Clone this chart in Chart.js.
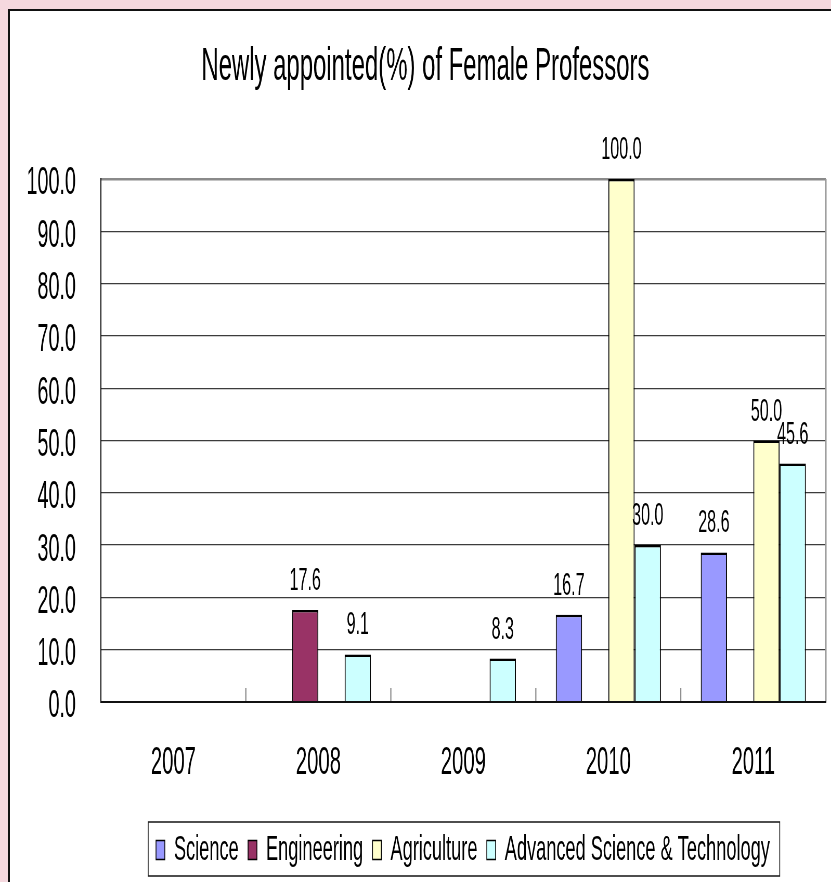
<!DOCTYPE html>
<html>
<head>
<meta charset="utf-8">
<script src="https://cdn.jsdelivr.net/npm/chart.js@4.4.1/dist/chart.umd.min.js"></script>
<style>
  html, body { margin: 0; padding: 0; overflow: hidden; }
  body { width: 831px; height: 882px; background: #f5d8de; position: relative; }
  #panel { position: absolute; left: 8px; top: 9px; width: 900px; height: 1000px; background: #fff;
           border-left: 2px solid #111; border-top: 2px solid #111; }
  #wrap { position: absolute; left: 0; top: 0; width: 831px; height: 882px; overflow: hidden; }
  #chart { transform-origin: 0 0; }
</style>
</head>
<body>
<div id="panel"></div>
<div id="wrap"><canvas id="chart"></canvas></div>
<script>
const years = ['2007', '2008', '2009', '2010', '2011'];
const science = [null, null, null, 16.7, 28.6];
const engineering = [null, 17.6, null, null, null];
const agriculture = [null, null, null, 100.0, 50.0];
const advanced = [null, 9.1, 8.3, 30.0, 45.6];
const yMin = 0, yMax = 100, yStep = 10;

// the picture's text is squeezed sideways, so draw wide and squash the canvas
const SX = 0.52;
const W = Math.round(831 / SX);
const canvas = document.getElementById('chart');
canvas.width = W;
canvas.height = 882;
canvas.style.transform = 'scaleX(' + (831 / W) + ')';

const FONT = "'Liberation Sans', Arial, sans-serif";
Chart.defaults.font.family = FONT;
Chart.defaults.color = '#000';

function bars(label, data, color) {
  return {
    label: label,
    data: data,
    backgroundColor: color,
    borderColor: '#000',
    borderWidth: {top: 2.5, left: 2, right: 2, bottom: 0},
    categoryPercentage: 0.725,
    barPercentage: 1
  };
}

const extras = {
  id: 'extras',
  afterLayout(chart) {
    // move legend items to where the picture has them
    const lg = chart.legend;
    const pad = lg.options.labels.padding;
    const x0 = (lg.left + pad + lg.right - lg.lineWidths[0]) / 2;
    const shift = 300 - x0;
    lg.left += shift;
    lg.right += shift;
  },
  afterDatasetsDraw(chart) {
    const ctx = chart.ctx, a = chart.chartArea, xs = chart.scales.x;
    ctx.save();
    // small ticks between the years
    ctx.strokeStyle = '#777';
    ctx.lineWidth = 2;
    for (let i = 1; i < years.length; i++) {
      const x = (xs.getPixelForValue(i - 1) + xs.getPixelForValue(i)) / 2;
      ctx.beginPath(); ctx.moveTo(x, a.bottom); ctx.lineTo(x, a.bottom - 14); ctx.stroke();
    }
    // right edge of plot
    ctx.strokeStyle = '#999';
    ctx.lineWidth = 3;
    ctx.beginPath(); ctx.moveTo(a.right, a.top); ctx.lineTo(a.right, a.bottom); ctx.stroke();
    // baseline over the bars
    ctx.strokeStyle = '#111';
    ctx.lineWidth = 2;
    ctx.beginPath(); ctx.moveTo(a.left, a.bottom); ctx.lineTo(a.right, a.bottom); ctx.stroke();
    // value labels
    ctx.fillStyle = '#000';
    ctx.font = '31px ' + FONT;
    ctx.textAlign = 'center';
    ctx.textBaseline = 'alphabetic';
    chart.data.datasets.forEach((ds, d) => {
      chart.getDatasetMeta(d).data.forEach((el, i) => {
        if (ds.data[i] == null) return;
        ctx.fillText(ds.data[i].toFixed(1), el.x, el.y - 20);
      });
    });
    ctx.restore();
  },
  afterDraw(chart) {
    // frame round the legend
    const hb = chart.legend.legendHitBoxes;
    if (!hb || !hb.length) return;
    const last = hb[hb.length - 1];
    const left = hb[0].left - 15;
    const right = last.left + last.width + 19;
    const ctx = chart.ctx;
    ctx.save();
    ctx.strokeStyle = '#222';
    ctx.lineWidth = 1.6;
    ctx.strokeRect(left, hb[0].top - 10.5, right - left, 54);
    ctx.restore();
  }
};

new Chart(canvas, {
  type: 'bar',
  data: {
    labels: years,
    datasets: [
      bars('Science', science, '#9999ff'),
      bars('Engineering', engineering, '#993366'),
      bars('Agriculture', agriculture, '#ffffcc'),
      bars('Advanced Science & Technology', advanced, '#ccffff')
    ]
  },
  options: {
    responsive: false,
    animation: false,
    devicePixelRatio: 1,
    layout: { padding: {left: 48, right: 10, top: 0, bottom: 4.5} },
    plugins: {
      title: {
        display: true,
        text: 'Newly appointed(%) of Female Professors',
        color: '#000',
        font: {size: 46, weight: 'normal'},
        padding: {top: 40, bottom: 83.8}
      },
      legend: {
        position: 'bottom',
        labels: { boxWidth: 17, boxHeight: 19, padding: 18, color: '#000', font: {size: 35} }
      },
      tooltip: { enabled: false }
    },
    scales: {
      x: {
        afterFit(scale) { scale.height = 112.5; },
        ticks: { padding: 38, font: {size: 39} },
        grid: { display: false, drawTicks: false },
        border: { display: true, color: '#111', width: 2 }
      },
      y: {
        min: yMin,
        max: yMax,
        afterFit(scale) { scale.width = 146; },
        ticks: {
          stepSize: yStep,
          padding: 48,
          labelOffset: 5,
          font: {size: 38},
          callback: v => v.toFixed(1)
        },
        grid: {
          drawTicks: false,
          color: c => c.tick && c.tick.value === yMax ? '#8a8a8a' : '#3c3c3c',
          lineWidth: c => c.tick && c.tick.value === yMax ? 2.5 : 1.2
        },
        border: { display: true, color: '#111', width: 2 }
      }
    }
  },
  plugins: [extras]
});
</script>
</body>
</html>
